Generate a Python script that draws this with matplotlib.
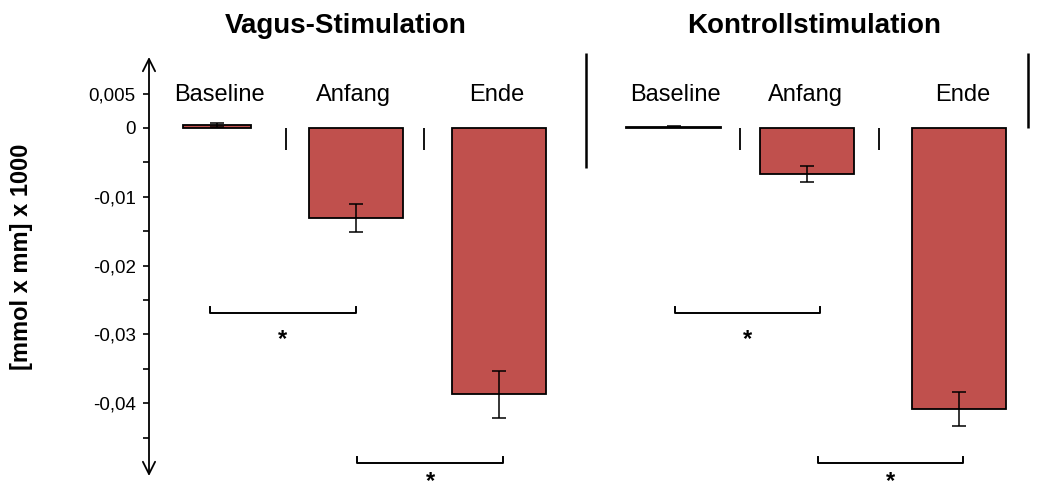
import matplotlib.pyplot as plt

plt.rcParams['font.family'] = ['Liberation Sans', 'DejaVu Sans']
plt.rcParams['mathtext.fontset'] = 'custom'
plt.rcParams['mathtext.bf'] = 'Liberation Sans:bold'

titles = ['Vagus-Stimulation', 'Kontrollstimulation']
phases = ['Baseline', 'Anfang', 'Ende']
vagus_mean = [0.0004, -0.0131, -0.0387]
vagus_err = [0.0003, 0.0020, 0.0034]
kontroll_mean = [0.0002, -0.0067, -0.0408]
kontroll_err = [0.0001, 0.0012, 0.0025]
yticks = [0.005, 0, -0.01, -0.02, -0.03, -0.04]
ytick_labels = ['0,005', '0', '-0,01', '-0,02', '-0,03', '-0,04']
minor_ticks = [-0.005, -0.015, -0.025, -0.035, -0.045]

# layout in pixel columns, value axis: 0 at row 128, 0.01 per 68.8 px
PX = 6880.0
def row(p):
    return -(p - 128) / PX

centers = [[217, 356, 499], [673.5, 807, 959]]
widths = [[68, 94, 94], [95, 94, 94]]
label_x = [[219, 353, 497], [675, 805, 963]]
title_x = [346, 814]

fig = plt.figure(figsize=(10.46, 4.93), dpi=100)
ax = fig.add_axes([0, 0, 1, 1])
ax.set_xlim(0, 1046)
ax.set_ylim(row(493), row(0))

red = '#C0504D'
for g, (mean, err) in enumerate([(vagus_mean, vagus_err), (kontroll_mean, kontroll_err)]):
    ax.bar(centers[g], mean, width=widths[g], yerr=err, color=red,
           edgecolor='black', linewidth=1.3, zorder=3,
           error_kw=dict(ecolor='black', elinewidth=1.1, capsize=4.7, capthick=1.1, zorder=4))
    for lx, name in zip(label_x[g], phases):
        ax.text(lx, row(95), name, fontsize=17, ha='center', va='center')
    ax.text(title_x[g], row(26), titles[g], fontsize=20, fontweight='bold',
            ha='center', va='center')

# y axis with arrows at both ends
for s in ax.spines.values():
    s.set_visible(False)
ax.spines['left'].set_position(('data', 149))
ax.annotate('', xy=(149, row(57)), xytext=(149, row(476)),
            arrowprops=dict(arrowstyle='<->', lw=1.3, color='black',
                            mutation_scale=22, shrinkA=0, shrinkB=0))
ax.set_yticks(yticks)
ax.set_yticklabels(ytick_labels)
ax.set_yticks(minor_ticks, minor=True)
ax.tick_params(axis='y', which='both', direction='out', length=4.5, width=1.2,
               labelsize=13.5, pad=5)
ax.set_xticks([])

# x axis at zero
ax.annotate('', xy=(1053, 0), xytext=(149, 0),
            arrowprops=dict(arrowstyle='->', lw=1.3, color='black',
                            mutation_scale=22, shrinkA=0, shrinkB=0), zorder=2)
ax.vlines([286, 424, 740, 879], row(150), 0, color='black', lw=1.3)
ax.vlines(586, row(168), row(53), color='black', lw=1.8)
ax.vlines(1028, 0, row(53), color='black', lw=1.8)

# significance brackets (bracket row, star x, star row)
brackets = [(210, 356, 313, 283, 339), (357, 503, 463, 431, 481.5),
            (675, 820, 313, 748, 339), (818, 963, 463, 891, 481.5)]
for x0, x1, yb, sx, sy in brackets:
    ax.plot([x0, x0, x1, x1], [row(yb - 6), row(yb), row(yb), row(yb - 6)],
            color='black', lw=1.4)
    ax.text(sx, row(sy), r'$\mathbf{*}$', fontsize=17, ha='center', va='center')

ax.text(22, row(257), '[mmol x mm] x 1000', fontsize=17, fontweight='bold',
        rotation=90, ha='center', va='center')

fig.savefig('out.png', dpi=100)
